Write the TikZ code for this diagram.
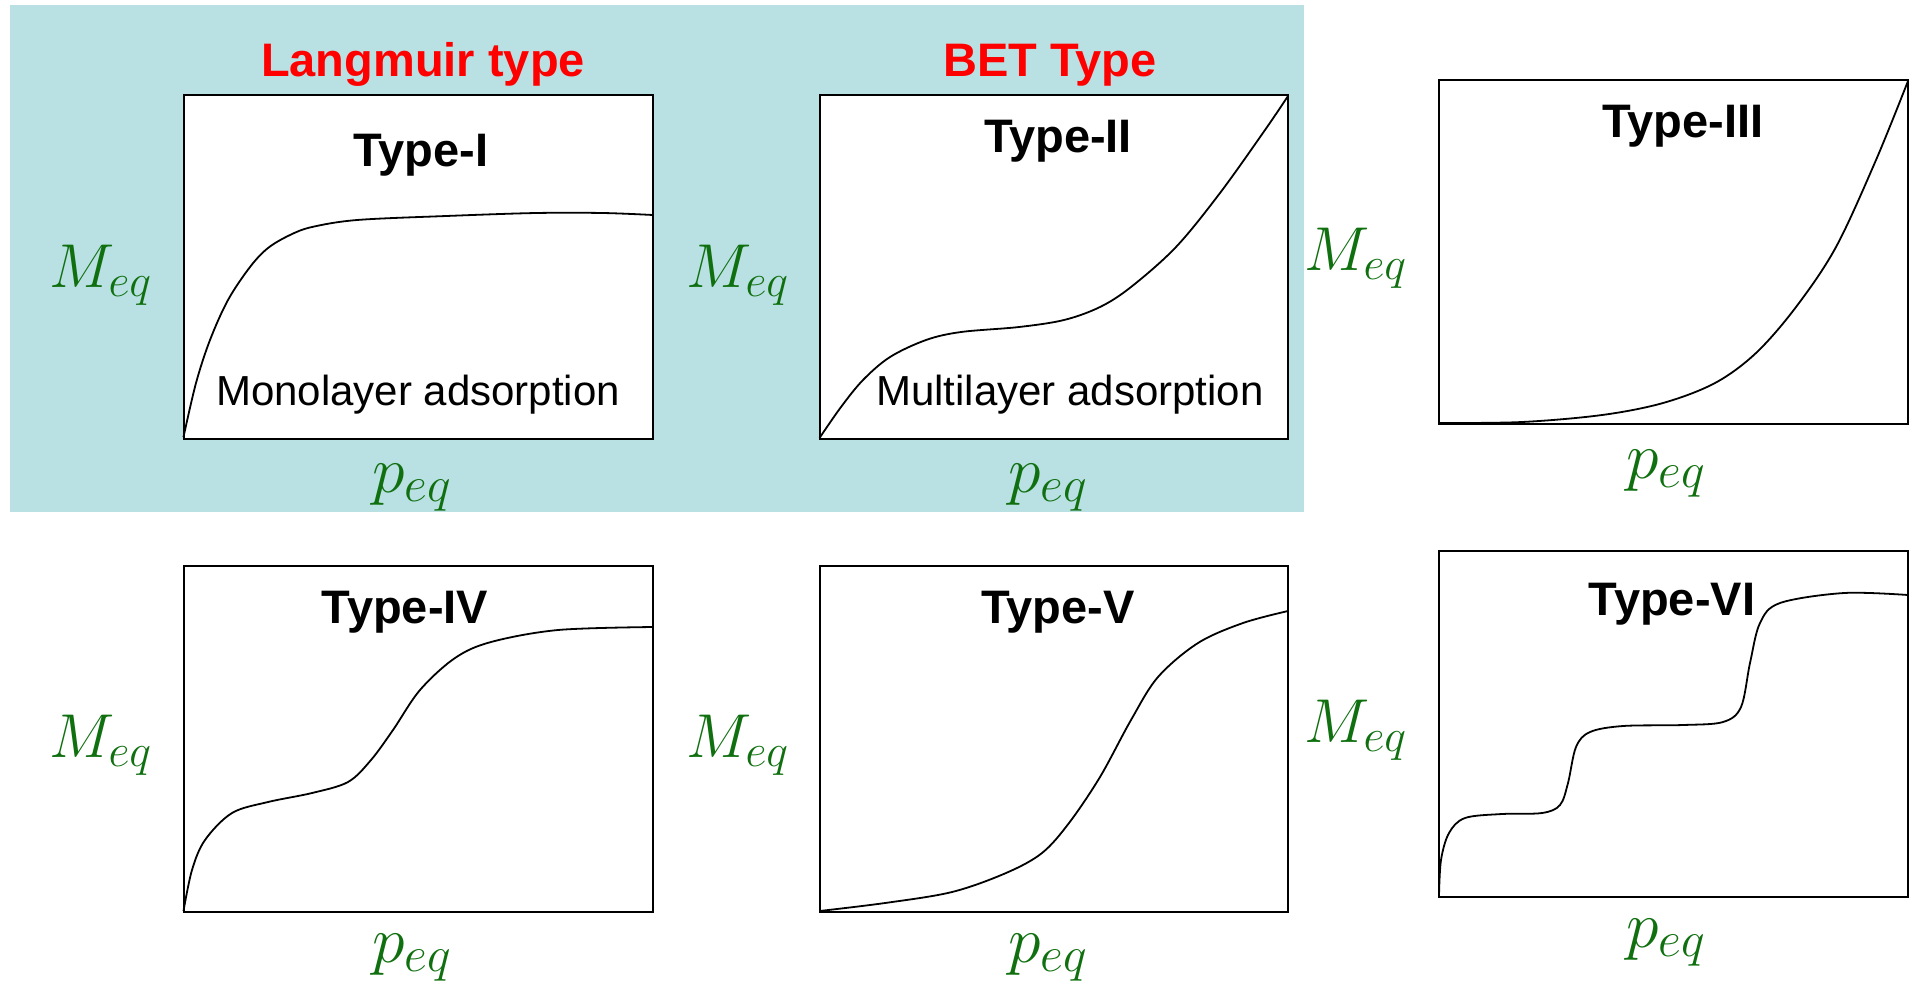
\RequirePackage{fix-cm}
\documentclass[tikz,border=0pt]{standalone}
\usepackage{fontspec}
\setmainfont{Liberation Sans}
\definecolor{tealbg}{HTML}{B9E0E3}
\definecolor{axgreen}{RGB}{16,112,16}
\definecolor{hdred}{RGB}{255,0,0}
\newcommand{\Meqlabel}{$M_{\mbox{\fontsize{23}{23}\selectfont$eq$}}$}
\newcommand{\peqlabel}{$p_{\mbox{\fontsize{25}{25}\selectfont$eq$}}$}
\begin{document}
\begin{tikzpicture}[x=0.5pt,y=-0.5pt,
  panel/.style={draw=black,line width=1pt,fill=white},
  curve/.style={line width=0.9pt,smooth,tension=0.55},
  header/.style={anchor=base,text=hdred,font=\fontsize{23.5}{28}\selectfont\bfseries,inner sep=0pt},
  typelbl/.style={anchor=base,font=\fontsize{23.5}{28}\selectfont\bfseries,inner sep=0pt},
  note/.style={anchor=base,font=\fontsize{21}{25}\selectfont,inner sep=0pt},
  ylab/.style={anchor=base,text=axgreen,font=\fontsize{31}{36}\selectfont,inner sep=0pt},
  xlab/.style={anchor=base,text=axgreen,font=\fontsize{33}{40}\selectfont,inner sep=0pt}]
\useasboundingbox (0,0) rectangle (1912,987);
\fill[white] (0,0) rectangle (1912,987);
\fill[tealbg] (10,5) rectangle (1304,512);
% panels
\draw[panel] (183.5,95) rectangle (653,439);
\draw[panel] (819.5,95) rectangle (1288,439);
\draw[panel] (1439,80) rectangle (1908,424);
\draw[panel] (183.5,566) rectangle (653,912);
\draw[panel] (819.5,566) rectangle (1288,912);
\draw[panel] (1439,551) rectangle (1908,897);
% headers
\node[header] (hl) at (423,76) {Langmuir type};
\node[header] (hb) at (1050,76) {BET Type};
% type labels
\node[typelbl] (t1) at (421,166) {Type-I};
\node[typelbl] (t2) at (1058,152) {Type-II};
\node[typelbl] (t3) at (1683,137) {Type-III};
\node[typelbl] (t4) at (405,623) {Type-IV};
\node[typelbl] (t5) at (1058,623) {Type-V};
\node[typelbl] (t6) at (1672,615) {Type-VI};
% notes
\node[note] (n1) at (418,405) {Monolayer adsorption};
\node[note] (n2) at (1070,405) {Multilayer adsorption};
% axis labels
\node[ylab] (m1) at (101,287) {\Meqlabel};
\node[ylab] (m2) at (738,287) {\Meqlabel};
\node[ylab] (m3) at (1356,270) {\Meqlabel};
\node[ylab] (m4) at (101,757) {\Meqlabel};
\node[ylab] (m5) at (738,757) {\Meqlabel};
\node[ylab] (m6) at (1356,742) {\Meqlabel};
\node[xlab] (p1) at (412,492) {\peqlabel};
\node[xlab] (p2) at (1048,492) {\peqlabel};
\node[xlab] (p3) at (1666,478) {\peqlabel};
\node[xlab] (p4) at (412,962) {\peqlabel};
\node[xlab] (p5) at (1048,962) {\peqlabel};
\node[xlab] (p6) at (1666,947) {\peqlabel};
% curves
\draw[curve] plot coordinates {(183.5,437) (196,383) (210,340) (228,300) (250,267) (268,248) (290,235) (312,227) (357,220) (446,216) (536,213) (603,213) (653,215)};
\draw[curve] plot coordinates {(819.5,438) (841,407) (863,380) (890,357) (926,340) (961,332) (1019,327) (1064,320) (1100,307) (1131,287) (1176,247) (1220,193) (1265,130) (1288,96)};
\draw[curve] plot coordinates {(1439,423) (1522,422) (1602,415) (1663,403) (1715,383) (1756,353) (1796,307) (1836,247) (1876,160) (1908,81)};
\draw[curve] plot coordinates {(183.5,911) (192,870) (205,840) (232,813) (268,802) (312,793) (348,782) (371,760) (393,730) (420,690) (455,658) (491,642) (558,630) (653,627)};
\draw[curve] plot coordinates {(819.5,911) (885,903) (952,892) (1006,873) (1042,853) (1069,823) (1100,777) (1131,720) (1158,677) (1198,643) (1243,623) (1288,611)};
\draw[curve] plot coordinates {(1439,896) (1441,860) (1449,833) (1465,818) (1502,814) (1542,813) (1560,805) (1568,783) (1576,747) (1590,732) (1623,726) (1683,725) (1723,722) (1741,707) (1750,663) (1760,623) (1780,603) (1844,593) (1908,595)};
\end{tikzpicture}
\end{document}
